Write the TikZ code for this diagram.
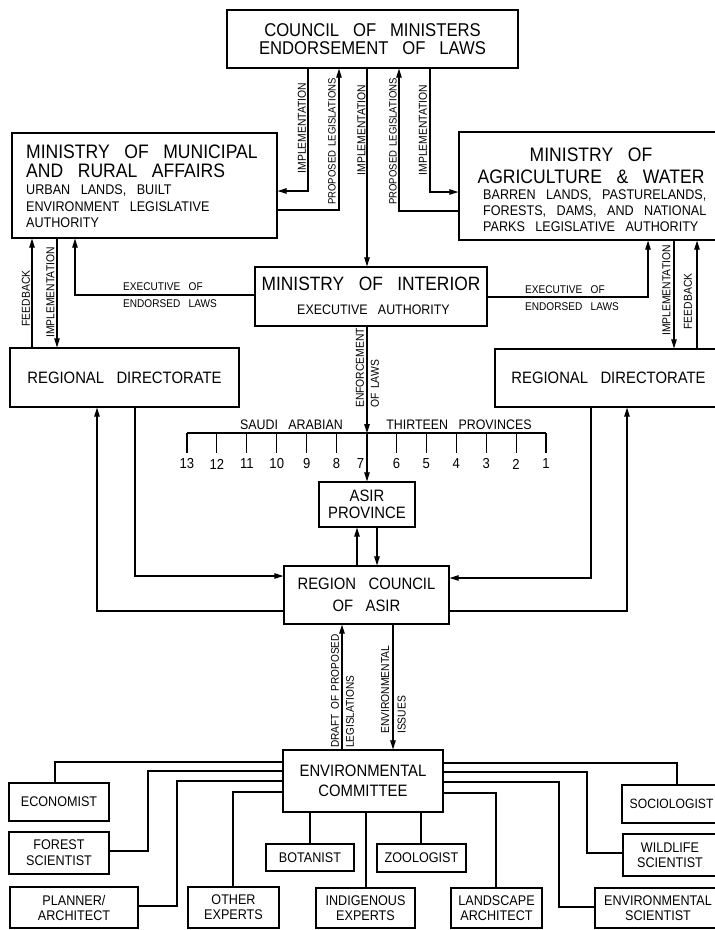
\documentclass[tikz,border=0pt]{standalone}
\usepackage{fontspec}
\setmainfont{Liberation Sans}[FakeStretch=0.9, WordSpace=3]
\newfontfamily\labfamily{Liberation Sans}[FakeStretch=0.9, WordSpace=1.6]
\usetikzlibrary{arrows.meta}
\begin{document}
\begin{tikzpicture}[x=1pt,y=-1pt,
  box/.style={draw, line width=1.2pt, inner sep=0pt, align=center},
  conn/.style={line width=1.1pt},
  arr/.style={conn, -{Triangle[length=9pt,width=5.5pt]}},
  lab/.style={font=\labfamily\fontsize{11.5}{15.5}\selectfont, inner sep=0pt},
  exlab/.style={font=\fontsize{11.2}{17}\selectfont, inner sep=0pt, align=left, anchor=west},
  bigtxt/.style={font=\fontsize{16.5}{21.5}\selectfont},
  smalltxt/.style={font=\fontsize{14}{15}\selectfont},
  txt/.style={inner sep=0pt}]
\useasboundingbox (0,0) rectangle (715,930);
\fill[white] (0,0) rectangle (715,930);
\clip (0,0) rectangle (715,930);

% ---------- boxes ----------
\node[box, minimum width=291pt, minimum height=58pt, font=\fontsize{18.5}{18}\selectfont] (council) at (372.5,39) {COUNCIL OF MINISTERS\\ENDORSEMENT OF LAWS};
\node[box, minimum width=265pt, minimum height=105pt] (muni) at (144.5,185.5) {};
\node[txt, anchor=north west, align=left, font=\fontsize{19.5}{18.5}\selectfont] (muniT) at (26,145) {MINISTRY OF MUNICIPAL\\AND RURAL AFFAIRS};
\node[txt, anchor=north west, align=left, font=\fontsize{14}{16.5}\selectfont] (muniS) at (26,185) {URBAN LANDS, BUILT\\ENVIRONMENT LEGISLATIVE\\AUTHORITY};

\node[box, minimum width=264pt, minimum height=108pt] (agri) at (591,186) {};
\node[txt, anchor=north, align=center, font=\fontsize{19.5}{21.5}\selectfont] (agriT) at (591,148) {MINISTRY OF\\AGRICULTURE \& WATER};
\node[txt, anchor=north west, align=left, font=\fontsize{14}{16}\selectfont] (agriS) at (483,190) {BARREN LANDS, PASTURELANDS,\\FORESTS, DAMS, AND NATIONAL\\PARKS LEGISLATIVE AUTHORITY};

\node[box, minimum width=232pt, minimum height=59pt] (interior) at (371,296.5) {};
\node[txt, anchor=north, font=\fontsize{19.3}{20}\selectfont] (intT) at (371,277) {MINISTRY OF INTERIOR};
\node[txt, anchor=north, font=\fontsize{13.8}{16}\selectfont] (intS) at (373.5,305) {EXECUTIVE AUTHORITY};

\node[box, minimum width=229pt, minimum height=59pt, bigtxt] (rdL) at (124.5,377.5) {REGIONAL DIRECTORATE};
\node[box, minimum width=227pt, minimum height=58pt, bigtxt] (rdR) at (608.5,378) {REGIONAL DIRECTORATE};

\node[box, minimum width=96pt, minimum height=45pt, font=\fontsize{16.5}{17}\selectfont] (asir) at (367,504.5) {ASIR\\PROVINCE};
\node[box, minimum width=165pt, minimum height=58pt, bigtxt] (rcouncil) at (366.5,595) {REGION COUNCIL\\OF ASIR};
\node[box, minimum width=160pt, minimum height=62pt, font=\fontsize{16.5}{20}\selectfont] (envc) at (363,781) {ENVIRONMENTAL\\COMMITTEE};

\node[box, minimum width=100pt, minimum height=38pt, smalltxt] (economist) at (59,802) {ECONOMIST};
\node[box, minimum width=100pt, minimum height=42pt, font=\fontsize{14}{16}\selectfont] (forest) at (59,853) {FOREST\\SCIENTIST};
\node[box, minimum width=128pt, minimum height=41pt, smalltxt] (planner) at (74,907.5) {PLANNER/\\ARCHITECT};
\node[box, minimum width=91pt, minimum height=41pt, smalltxt] (other) at (233.5,907.5) {OTHER\\EXPERTS};
\node[box, minimum width=88pt, minimum height=27pt, smalltxt] (botanist) at (310,857.5) {BOTANIST};
\node[box, minimum width=99pt, minimum height=40pt, smalltxt] (indig) at (365.5,908) {INDIGENOUS\\EXPERTS};
\node[box, minimum width=89pt, minimum height=28pt, smalltxt] (zoolog) at (421.5,858) {ZOOLOGIST};
\node[box, minimum width=91pt, minimum height=40pt, smalltxt] (landsc) at (496.5,908) {LANDSCAPE\\ARCHITECT};
\node[box, minimum width=103pt, minimum height=38pt] (socio) at (673.5,804) {};
\node[txt, anchor=west, font=\fontsize{13.5}{15}\selectfont] (socioT) at (629.5,804) {SOCIOLOGIST};
\node[box, minimum width=94pt, minimum height=42pt, smalltxt] (wildlife) at (670,855) {WILDLIFE\\SCIENTIST};
\node[box, minimum width=126pt, minimum height=40pt, font=\fontsize{14}{14.5}\selectfont] (envsci) at (658,908) {ENVIRONMENTAL\\SCIENTIST};

% ---------- council connectors ----------
\draw[arr] (council.south -| 308,0) |- (muni.east |- 0,191);
\draw[arr] (muni.east |- 0,210) -| (council.south -| 339,0);
\draw[arr] (council.south -| 367,0) -- (interior.north -| 367,0);
\draw[arr] (agri.west |- 0,211) -| (council.south -| 399,0);
\draw[arr] (council.south -| 430,0) |- (agri.west |- 0,192);
\node[lab, rotate=90] (lImpA) at (302,128) {IMPLEMENTATION};
\node[lab, rotate=90, font=\labfamily\fontsize{10.6}{12}\selectfont] (lPropA) at (332,141.5) {PROPOSED LEGISLATIONS};
\node[lab, rotate=90] (lImpB) at (361.5,130) {IMPLEMENTATION};
\node[lab, rotate=90, font=\labfamily\fontsize{10.6}{12}\selectfont] (lPropB) at (393,141.5) {PROPOSED LEGISLATIONS};
\node[lab, rotate=90] (lImpC) at (423,130) {IMPLEMENTATION};

% ---------- interior to ministries ----------
\draw[arr] (interior.west |- 0,295) -| (muni.south -| 75,0);
\draw[arr] (interior.east |- 0,297) -| (agri.south -| 648,0);
\node[exlab] (lExA) at (123,295.5) {EXECUTIVE OF\\ENDORSED LAWS};
\node[exlab] (lExB) at (525,298.5) {EXECUTIVE OF\\ENDORSED LAWS};

% ---------- ministries to regional directorates ----------
\draw[arr] (rdL.north -| 32,0) -- (muni.south -| 32,0);
\draw[arr] (muni.south -| 57,0) -- (rdL.north -| 57,0);
\draw[arr] (agri.south -| 674,0) -- (rdR.north -| 674,0);
\draw[arr] (rdR.north -| 697,0) -- (agri.south -| 697,0);
\node[lab, rotate=90] (lFbA) at (26,298.5) {FEEDBACK};
\node[lab, rotate=90] (lImpD) at (50.5,292.5) {IMPLEMENTATION};
\node[lab, rotate=90] (lImpE) at (666.5,290.5) {IMPLEMENTATION};
\node[lab, rotate=90] (lFbB) at (688,301.5) {FEEDBACK};

% ---------- provinces bar ----------
\coordinate (bar7) at (367,433);
\coordinate (barL) at (187,433);
\coordinate (barR) at (546,433);
\draw[arr] (interior.south -| 367,0) -- (bar7);
\draw[arr] (bar7) -- (asir.north);
\draw[conn] (barL) -- (barR);
\foreach \i in {0,...,12}{
  \pgfmathsetmacro{\xx}{187+\i*29.917}
  \pgfmathtruncatemacro{\nn}{13-\i}
  \ifnum\i=6\relax
    \node[txt, font=\fontsize{14.5}{15}\selectfont] (num\nn) at (\xx-6,464) {\nn};
  \else
    \draw[conn] (\xx,433) -- (\xx,453);
    \node[txt, font=\fontsize{14.5}{15}\selectfont] (num\nn) at (\xx,464) {\nn};
  \fi
}
\node[lab, rotate=90, align=left, anchor=west, font=\labfamily\fontsize{11.5}{15}\selectfont] (lEnf) at (367.5,408) {ENFORCEMENT\\OF LAWS};
\node[txt, font=\fontsize{13.8}{15}\selectfont] (lSaudi) at (291.5,425) {SAUDI ARABIAN};
\node[txt, font=\fontsize{13.8}{15}\selectfont] (lThirt) at (459,425) {THIRTEEN PROVINCES};

% ---------- asir and region council ----------
\draw[arr] (rcouncil.north -| 357,0) -- (asir.south -| 357,0);
\draw[arr] (asir.south -| 377,0) -- (rcouncil.north -| 377,0);
\draw[arr] (rdL.south -| 135,0) |- (rcouncil.west |- 0,576);
\draw[arr] (rcouncil.west |- 0,611) -| (rdL.south -| 97,0);
\draw[arr] (rdR.south -| 591,0) |- (rcouncil.east |- 0,578);
\draw[arr] (rcouncil.east |- 0,611) -| (rdR.south -| 627,0);

% ---------- region council and committee ----------
\draw[arr] (envc.north -| 342,0) -- (rcouncil.south -| 342,0);
\draw[arr] (rcouncil.south -| 393,0) -- (envc.north -| 393,0);
\node[lab, rotate=90, align=left, anchor=west, font=\labfamily\fontsize{11.2}{15}\selectfont] (lDraft) at (342.5,748) {DRAFT OF PROPOSED\\LEGISLATIONS};
\node[lab, rotate=90, align=left, anchor=west, font=\labfamily\fontsize{11.5}{16.5}\selectfont] (lEnv) at (393.5,734) {ENVIRONMENTAL\\ISSUES};

% ---------- committee to experts ----------
\draw[conn] (envc.west |- 0,762) -| (economist.north -| 55,0);
\draw[conn] (envc.west |- 0,771) -| (148,851) -- (forest.east |- 0,851);
\draw[conn] (envc.west |- 0,781) -| (177,906) -- (planner.east |- 0,906);
\draw[conn] (envc.west |- 0,792) -| (other.north -| 233,0);
\draw[conn] (envc.south -| 310,0) -- (botanist.north -| 310,0);
\draw[conn] (envc.east |- 0,763) -| (socio.north -| 677,0);
\draw[conn] (envc.east |- 0,772) -| (587,853) -- (wildlife.west |- 0,853);
\draw[conn] (envc.east |- 0,782) -| (559,907) -- (envsci.west |- 0,907);
\draw[conn] (envc.east |- 0,793) -| (landsc.north -| 496,0);
\draw[conn] (envc.south -| 366,0) -- (indig.north -| 366,0);
\draw[conn] (envc.south -| 421,0) -- (zoolog.north -| 421,0);
\end{tikzpicture}
\end{document}
